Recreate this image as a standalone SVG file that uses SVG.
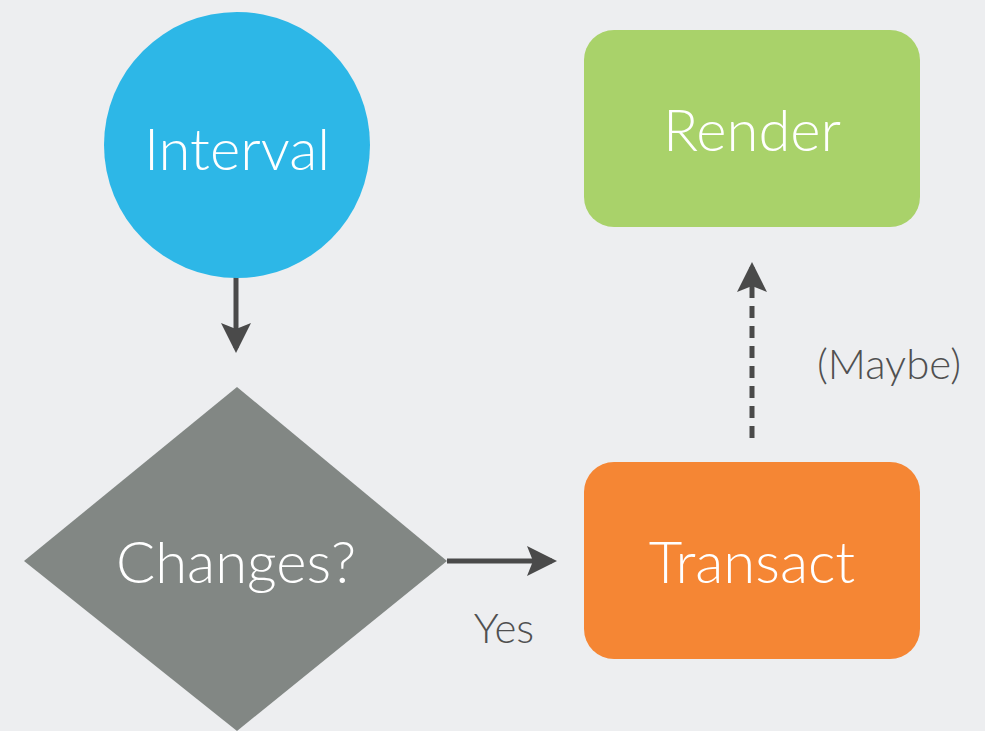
<svg xmlns="http://www.w3.org/2000/svg" width="985" height="731" viewBox="0 0 985 731">
<style>
.lbl{font-family:Lato,"Open Sans","Liberation Sans",sans-serif;font-weight:300;fill:#ffffff;text-anchor:middle}
.big{font-size:58px}
.small{font-family:Lato,"Open Sans","Liberation Sans",sans-serif;font-weight:300;fill:#505050;font-size:42px;text-anchor:middle}
.conn{stroke:#4a4a4a;stroke-width:5;fill:none}
</style>
<defs>
<marker id="ah" markerWidth="6" markerHeight="6" refX="5" refY="3" orient="auto" markerUnits="strokeWidth">
<path d="M0,0 L6,3 L0,6 L1.2,3 Z" fill="#4a4a4a"/>
</marker>
</defs>
<rect width="985" height="731" fill="#EDEEF0"/>
<g id="connectors">
<line class="conn" x1="236" y1="277" x2="236" y2="348" marker-end="url(#ah)"/>
<line class="conn" x1="447" y1="561" x2="552" y2="561" marker-end="url(#ah)"/>
<line class="conn" x1="752" y1="438" x2="752" y2="267" stroke-dasharray="12,8" marker-end="url(#ah)"/>
<text class="small" x="504" y="643">Yes</text>
<text class="small" x="889" y="379">(Maybe)</text>
</g>
<g id="interval">
<circle cx="237" cy="145" r="133" fill="#2DB7E7"/>
<text class="lbl big" x="237" y="170">Interval</text>
</g>
<g id="changes">
<polygon points="237,387 447,561 237,731 24,561" fill="#828784"/>
<text class="lbl big" x="236" y="583">Changes?</text>
</g>
<g id="render">
<rect x="584" y="30" width="336" height="197" rx="30" fill="#A9D26A"/>
<text class="lbl big" x="752" y="151">Render</text>
</g>
<g id="transact">
<rect x="584" y="462" width="336" height="197" rx="30" fill="#F58634"/>
<text class="lbl big" x="752" y="583">Transact</text>
</g>
</svg>
